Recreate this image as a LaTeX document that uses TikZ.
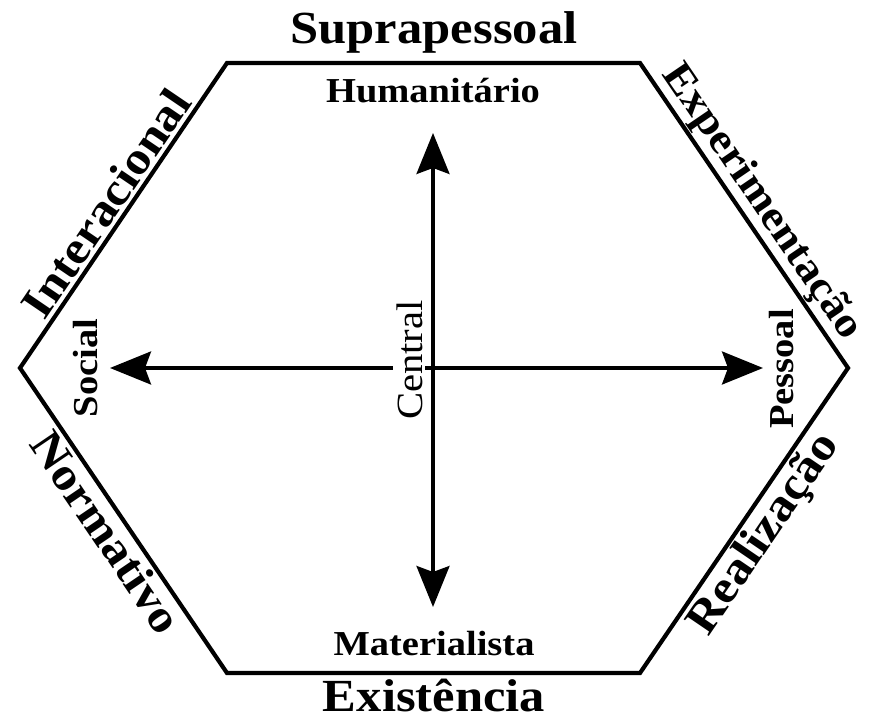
\documentclass[tikz,border=0pt]{standalone}
\usepackage{fontspec}
\setmainfont{Liberation Serif}[FakeStretch=1.1]
\usetikzlibrary{arrows.meta}
\begin{document}
\begin{tikzpicture}[x=1pt,y=1pt,
  hexline/.style={line width=4.2pt, line join=miter},
  axis/.style={line width=3.3pt, -{Stealth[length=41pt,width=33pt,inset=6pt]}},
  biglab/.style={font=\bfseries\fontsize{46}{50}\selectfont, inner sep=0pt},
  midlab/.style={font=\bfseries\fontsize{35}{40}\selectfont, inner sep=0pt},
  reglab/.style={font=\fontsize{37}{42}\selectfont},
]
\useasboundingbox (0,0) rectangle (872,720);
% hexagon vertices
\coordinate (L)  at (20,352);
\coordinate (TL) at (227,657);
\coordinate (TR) at (640,657);
\coordinate (R)  at (848,352);
\coordinate (BR) at (640,47);
\coordinate (BL) at (227,47);
\draw[hexline] (L) -- (TL) -- (TR) -- (R) -- (BR) -- (BL) -- cycle;
% axes
\coordinate (O)  at (433,352);
\coordinate (up) at (433,587);
\coordinate (dn) at (433,113);
\coordinate (lt) at (110,352);
\coordinate (rt) at (763,352);
\draw[axis] (O) -- (up);
\draw[axis] (O) -- (dn);
\draw[axis] (O) -- (lt);
\draw[axis] (O) -- (rt);
\node[reglab, rotate=90, anchor=base, fill=white, inner sep=3pt] (central) at (422,360) {Central};
% top and bottom labels
\node[biglab, anchor=base] (supra) at (434,676) {Suprapessoal};
\node[biglab, anchor=base] (exist) at (434,9) {Existência};
\node[midlab, anchor=base] (human) at (433,617) {Humanitário};
\node[midlab, anchor=base] (mater) at (434,65) {Materialista};
% side labels
\node[midlab, rotate=90, anchor=base] (social) at (97,352) {Social};
\node[midlab, rotate=90, anchor=base] (pess) at (793,351) {Pessoal};
% edge labels
\node[biglab, rotate=55.8, anchor=south] (inter) at (119.4,507.3) {Interacional};
\node[biglab, rotate=-55.7, anchor=south, font=\bfseries\fontsize{42}{47}\selectfont] (exper) at (745.5,507.2) {Experimentação};
\node[biglab, rotate=-55.8, anchor=north] (norm) at (120.2,197.3) {Normativo};
\node[biglab, rotate=55.7, anchor=north] (real) at (747.3,197.2) {Realização};
\end{tikzpicture}
\end{document}
